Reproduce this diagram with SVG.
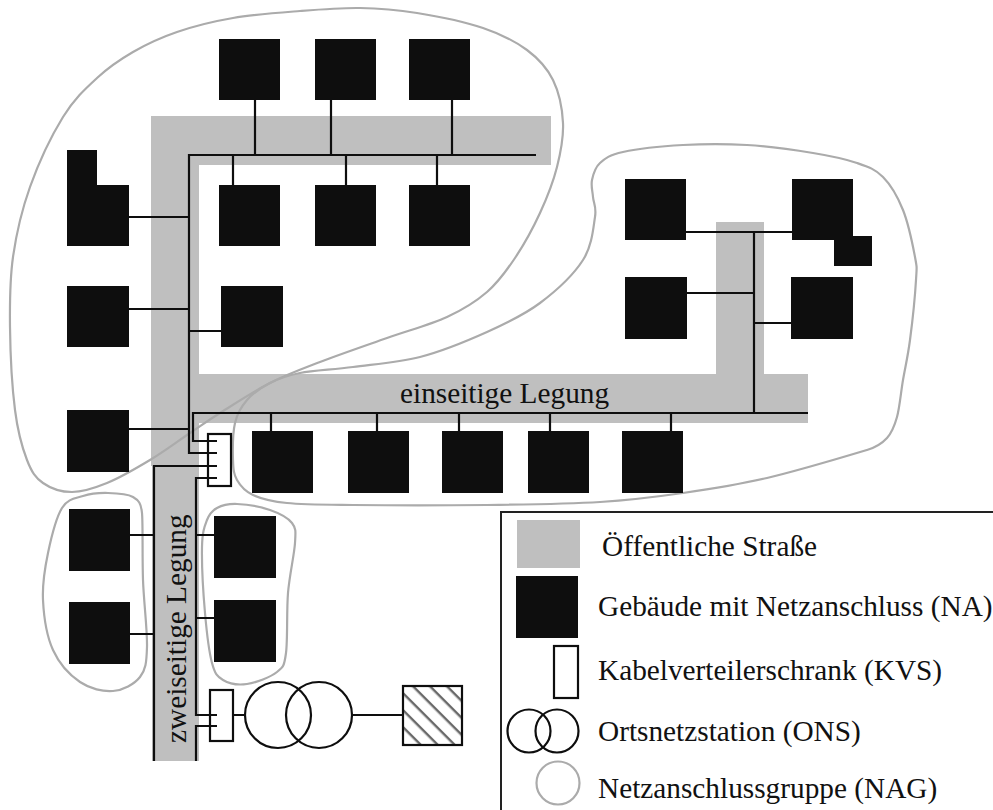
<svg xmlns="http://www.w3.org/2000/svg" width="993" height="810" viewBox="0 0 993 810">
<style>
.b{fill:#0e0e0e}
.l{fill:none;stroke:#0e0e0e;stroke-width:2.2}
.o{fill:none;stroke:#0e0e0e;stroke-width:2.2}
.g{fill:none;stroke:#ababab;stroke-width:2.2}
.t{font-family:"Liberation Serif","Times New Roman",serif;font-size:29.3px;fill:#111}
</style>
<defs>
<pattern id="h" patternUnits="userSpaceOnUse" width="12" height="12" patternTransform="rotate(45)">
<rect width="12" height="12" fill="#fff"/><rect width="12" height="2.400" y="0" fill="#666"/>
</pattern>
</defs>
<rect width="993" height="810" fill="#fff"/>
<path id="road" fill="#bfbfbf" d="M151 116H551V165H199V374H716V222H764V374H808V423H199V761H152V466H151Z"/>
<g id="groups">
<path id="group-nw" class="g" d="M13 257C16.300 233.700 21.700 210.300 30 187S51.800 135.200 63 117S85.300 88.800 97 78S119.700 59.700 133 52S160.300 37.700 177 32S212.500 21.500 233 18S278.800 12.700 300 11S340.500 7.700 360 8S396.500 9.700 417 13S464.700 21.800 483 28S515.300 41.300 527 50S547 67.800 553 80S562.300 108.500 563 123S560.800 152 557 167S547 197.800 540 213S523.800 244.800 515 258S498.300 282.200 487 292S463.700 309.300 447 317S408.200 330.500 387 338S339.500 354.500 320 362S286.700 374.500 270 383S233.300 404.700 220 413S201.700 425.200 190 433S163.800 451.700 150 460S120 477.700 107 483S82.700 492 72 492S50.500 488.300 43 483S31.700 472.200 27 460S17.800 432.200 15 410S10.300 352.500 10 327S9.700 280.300 13 257Z"/>
<path id="group-e" class="g" d="M592 180C593.200 174.300 594.800 167.700 600 163S609.200 155 623 152S662.300 146.200 683 145S725.300 143.700 747 145S794.700 150 813 153S845.300 159 857 163S875.300 169.200 883 177S897.700 196.700 903 210S912.800 245.300 915 257S916.800 266.200 916 280S912.200 323.300 910 340S905.200 367.200 903 380S899.700 407.300 897 417S892 432.500 887 438S877 447 867 450S797.700 470.800 767 478S710.800 489 683 493S632.700 500 600 502S528 504.500 487 505S375 505.300 353 505S303.700 504.700 287 503S261.300 498.800 253 495S240.300 485.800 237 480S233.300 469.500 233 460S232.700 433 235 423S241.200 406.700 247 400S261.200 387.500 270 383S286.200 375.700 300 373S333 369.700 353 367S397.700 362.800 420 357S467 341 487 332S524 315 540 303S573.800 274.300 583 260S593.300 227.500 595 217S593.500 203.200 593 197S590.800 185.700 592 180Z"/>
<path id="group-sw" class="g" d="M108 493C116.300 493.200 127.300 493.700 133 497S141 503 142 513S142.200 557.700 143 580S147.500 631 147 647S145.700 669.700 140 677S123 690.200 113 691S90 688.800 80 682S59.200 663.700 53 650S43.800 616.200 43 600S44.800 568.300 48 553S56.200 517.500 62 508S75.300 498.500 83 496S99.700 492.800 108 493Z"/>
<path id="group-s" class="g" d="M237 504C245.800 504.300 260.800 506.800 270 510S287.800 517.500 292 523S295.700 531.300 295 543S289.500 574.700 288 593S287.800 639.800 286 653S283.500 666.800 277 672S256 682.700 247 684S228.800 683.500 223 680S215 674.200 212 663S206.700 632.300 205 613S201.700 562.500 202 547S204.500 526.500 207 520S212 510.700 217 508S228.200 503.700 237 504Z"/>
</g>
<g id="connectors">
<path class="l" d="M536 155H189V453H217M217 441H193V413H808M154 761V466H217M196 761V726H217M217 715H196V478H217"/>
<path class="l" d="M255 100V155M331 100V155M452 100V155M233 155V185M346 155V185M437 155V185M129 217H189M129 309H189M189 331H221M129 429H189"/>
<path class="l" d="M271 413V431M377 413V431M459 413V431M550 413V431M671 413V431M686 232H792M754 232V413M687 293H754M754 323H791"/>
<path class="l" d="M130 535H154M130 634H154M196 535H214M196 618H214M233 715H245M352 715H403"/>
</g>
<g id="node-top1"><rect class="b" x="219" y="39" width="61" height="61"/></g>
<g id="node-top2"><rect class="b" x="315" y="39" width="61" height="61"/></g>
<g id="node-top3"><rect class="b" x="409" y="39" width="61" height="61"/></g>
<g id="node-mid1"><rect class="b" x="219" y="185" width="61" height="61"/></g>
<g id="node-mid2"><rect class="b" x="315" y="185" width="61" height="61"/></g>
<g id="node-mid3"><rect class="b" x="409" y="185" width="61" height="61"/></g>
<g id="node-l"><path class="b" d="M67 150H97V185H129V246H67Z"/></g>
<g id="node-left2"><rect class="b" x="67" y="286" width="62" height="61"/></g>
<g id="node-inner"><rect class="b" x="221" y="286" width="62" height="61"/></g>
<g id="node-left3"><rect class="b" x="67" y="410" width="62" height="62"/></g>
<g id="node-bot1"><rect class="b" x="252" y="431" width="61" height="62"/></g>
<g id="node-bot2"><rect class="b" x="348" y="431" width="61" height="62"/></g>
<g id="node-bot3"><rect class="b" x="442" y="431" width="61" height="62"/></g>
<g id="node-bot4"><rect class="b" x="528" y="431" width="61" height="62"/></g>
<g id="node-bot5"><rect class="b" x="622" y="431" width="61" height="62"/></g>
<g id="node-ll1"><rect class="b" x="69" y="509" width="61" height="62"/></g>
<g id="node-ll2"><rect class="b" x="69" y="602" width="61" height="62"/></g>
<g id="node-lr1"><rect class="b" x="214" y="516" width="62" height="62"/></g>
<g id="node-lr2"><rect class="b" x="214" y="600" width="62" height="62"/></g>
<g id="node-r1"><rect class="b" x="625" y="179" width="61" height="61"/></g>
<g id="node-r2"><rect class="b" x="625" y="277" width="62" height="62"/></g>
<g id="node-r3"><path class="b" d="M792 179H853V236H872V266H834V240H792Z"/></g>
<g id="node-r4"><rect class="b" x="791" y="277" width="62" height="62"/></g>
<g id="kvs-top"><rect class="o" x="208" y="434" width="23" height="52"/></g>
<g id="kvs-bottom"><rect class="o" x="210" y="690" width="23" height="51"/></g>
<g id="ons"><circle class="o" cx="278" cy="715" r="33"/><circle class="o" cx="319" cy="715" r="33"/></g>
<g id="hatched"><rect x="403" y="686" width="59" height="59" fill="url(#h)" stroke="#0e0e0e" stroke-width="2.2"/></g>
<text class="t" x="400" y="403">einseitige Legung</text>
<text class="t" transform="translate(186 743) rotate(-90)">zweiseitige Legung</text>
<g id="legend">
<path d="M501 810V512H993" fill="none" stroke="#222" stroke-width="2"/>
<rect x="517" y="520" width="63" height="48" fill="#bfbfbf"/>
<rect class="b" x="516" y="576" width="62" height="62"/>
<rect class="o" x="554" y="646" width="24" height="52"/>
<circle class="o" cx="529" cy="731" r="21.500"/>
<circle class="o" cx="557" cy="731" r="21.500"/>
<circle class="g" cx="558" cy="783" r="21.500"/>
<text class="t" x="602" y="556">Öffentliche Straße</text>
<text class="t" x="598" y="616">Gebäude mit Netzanschluss (NA)</text>
<text class="t" x="598" y="680">Kabelverteilerschrank (KVS)</text>
<text class="t" x="598" y="741">Ortsnetzstation (ONS)</text>
<text class="t" x="598" y="798">Netzanschlussgruppe (NAG)</text>
</g>
</svg>
